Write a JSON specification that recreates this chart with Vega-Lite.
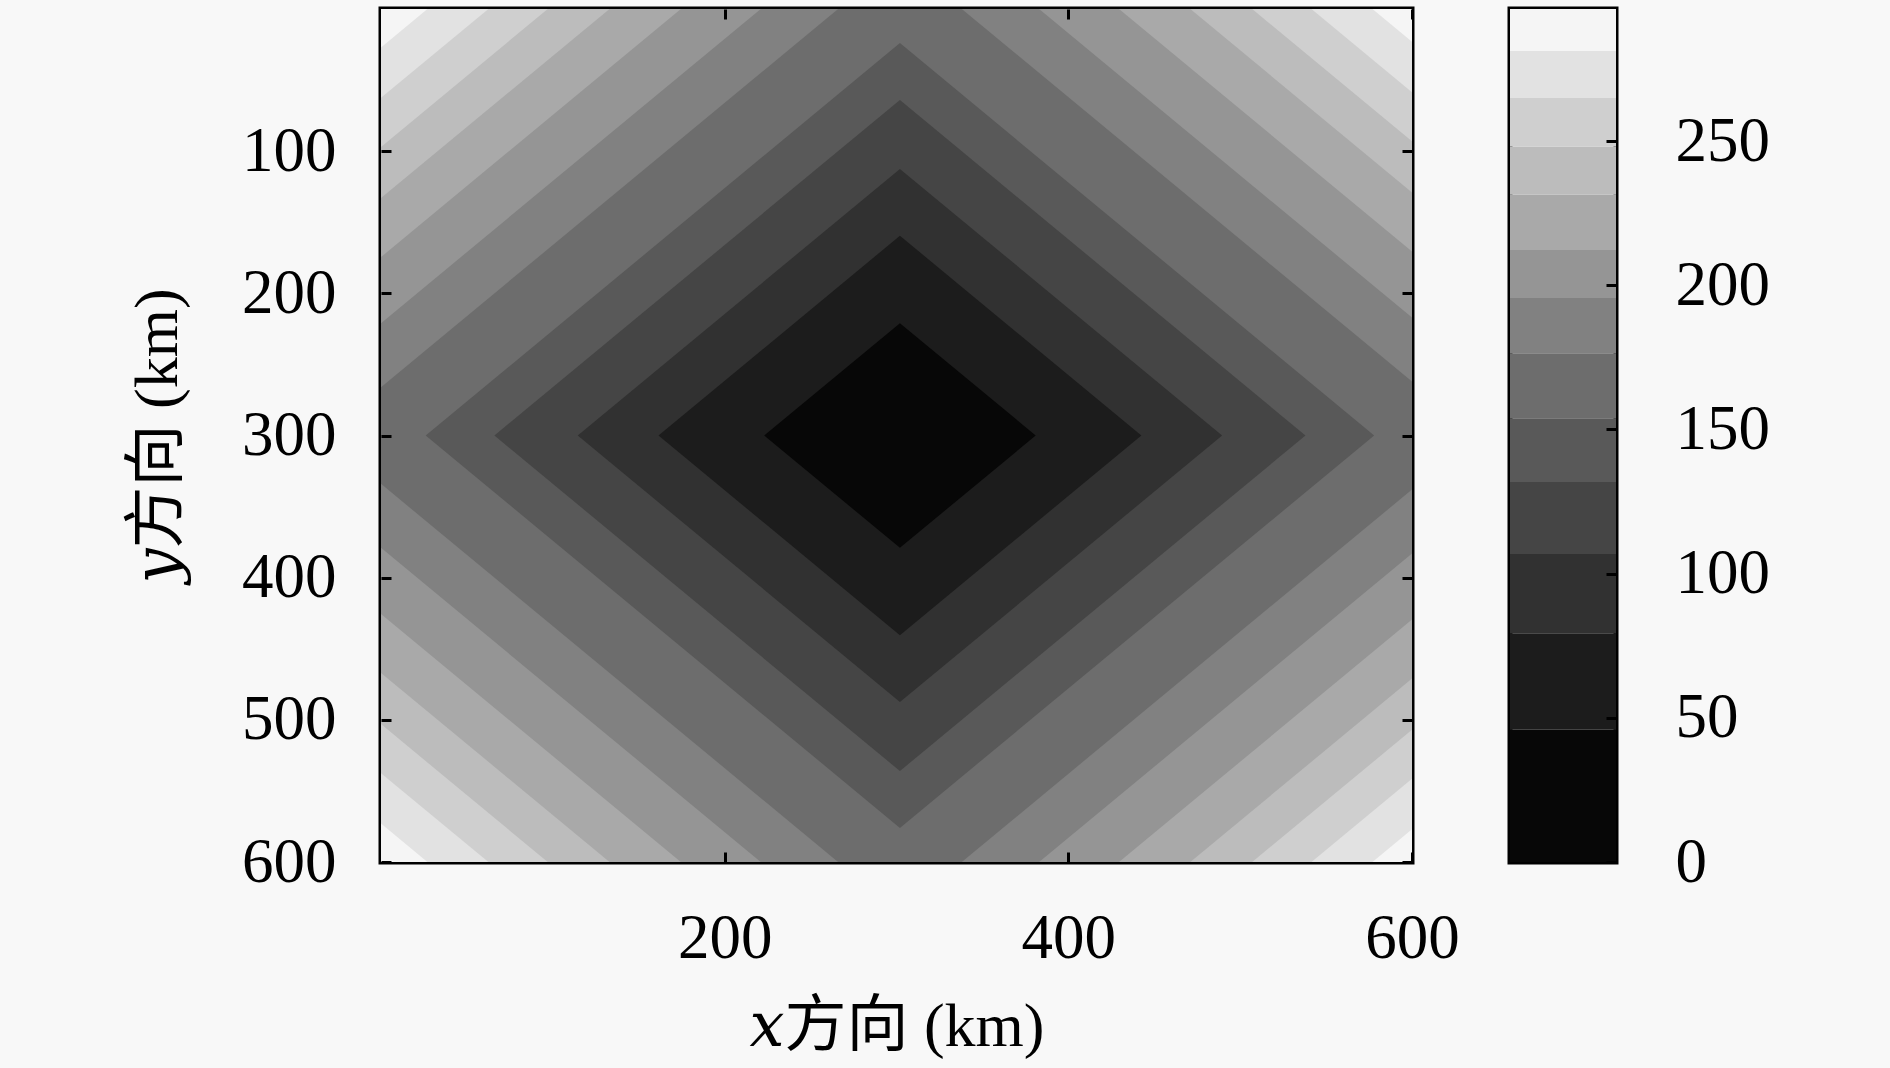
{
  "$schema": "https://vega.github.io/schema/vega-lite/v6.json",
  "background": "#f8f8f8",
  "padding": {"left": 124, "top": 5, "right": 123, "bottom": 12},
  "spacing": 45,
  "config": {
    "font": "Liberation Serif",
    "view": {"stroke": "black", "strokeWidth": 5},
    "axis": {
      "labelFont": "Liberation Serif",
      "labelFontSize": 63,
      "labelColor": "black",
      "labelFlush": false,
      "labelOverlap": false,
      "titleFont": "Liberation Serif, DejaVu Serif, Noto Sans CJK SC",
      "titleFontSize": 62,
      "titleFontWeight": "normal",
      "titleColor": "black",
      "domain": false,
      "grid": false,
      "ticks": true,
      "tickColor": "black",
      "tickWidth": 3,
      "tickSize": 10,
      "offset": -10
    }
  },
  "datasets": {
    "bands": [
      {"band": 13, "v": 288, "x": -398, "y": 300, "y2": 300},
      {"band": 13, "v": 288, "x": 302, "y": -400, "y2": 1000},
      {"band": 13, "v": 288, "x": 1002, "y": 300, "y2": 300},
      {"band": 12, "v": 273, "x": -273, "y": 300, "y2": 300},
      {"band": 12, "v": 273, "x": 302, "y": -275, "y2": 875},
      {"band": 12, "v": 273, "x": 877, "y": 300, "y2": 300},
      {"band": 11, "v": 256, "x": -237.5, "y": 300, "y2": 300},
      {"band": 11, "v": 256, "x": 302, "y": -239.5, "y2": 839.5},
      {"band": 11, "v": 256, "x": 841.5, "y": 300, "y2": 300},
      {"band": 10, "v": 240, "x": -203, "y": 300, "y2": 300},
      {"band": 10, "v": 240, "x": 302, "y": -205, "y2": 805},
      {"band": 10, "v": 240, "x": 807, "y": 300, "y2": 300},
      {"band": 9, "v": 222, "x": -167, "y": 300, "y2": 300},
      {"band": 9, "v": 222, "x": 302, "y": -169, "y2": 769},
      {"band": 9, "v": 222, "x": 771, "y": 300, "y2": 300},
      {"band": 8, "v": 204, "x": -125.5, "y": 300, "y2": 300},
      {"band": 8, "v": 204, "x": 302, "y": -127.5, "y2": 727.5},
      {"band": 8, "v": 204, "x": 729.5, "y": 300, "y2": 300},
      {"band": 7, "v": 186, "x": -79, "y": 300, "y2": 300},
      {"band": 7, "v": 186, "x": 302, "y": -81, "y2": 681},
      {"band": 7, "v": 186, "x": 683, "y": 300, "y2": 300},
      {"band": 6, "v": 165, "x": -34, "y": 300, "y2": 300},
      {"band": 6, "v": 165, "x": 302, "y": -36, "y2": 636},
      {"band": 6, "v": 165, "x": 638, "y": 300, "y2": 300},
      {"band": 5, "v": 143, "x": 26, "y": 300, "y2": 300},
      {"band": 5, "v": 143, "x": 302, "y": 24, "y2": 576},
      {"band": 5, "v": 143, "x": 578, "y": 300, "y2": 300},
      {"band": 4, "v": 119, "x": 66, "y": 300, "y2": 300},
      {"band": 4, "v": 119, "x": 302, "y": 64, "y2": 536},
      {"band": 4, "v": 119, "x": 538, "y": 300, "y2": 300},
      {"band": 3, "v": 93, "x": 114.5, "y": 300, "y2": 300},
      {"band": 3, "v": 93, "x": 302, "y": 112.5, "y2": 487.5},
      {"band": 3, "v": 93, "x": 489.5, "y": 300, "y2": 300},
      {"band": 2, "v": 62, "x": 161.5, "y": 300, "y2": 300},
      {"band": 2, "v": 62, "x": 302, "y": 159.5, "y2": 440.5},
      {"band": 2, "v": 62, "x": 442.5, "y": 300, "y2": 300},
      {"band": 1, "v": 23, "x": 223, "y": 300, "y2": 300},
      {"band": 1, "v": 23, "x": 302, "y": 221, "y2": 379},
      {"band": 1, "v": 23, "x": 381, "y": 300, "y2": 300}
    ],
    "levels": [
      {"lo": 0, "hi": 45.9, "v": 23},
      {"lo": 45.9, "hi": 79.3, "v": 62},
      {"lo": 79.3, "hi": 106.8, "v": 93},
      {"lo": 106.8, "hi": 131.8, "v": 119},
      {"lo": 131.8, "hi": 153.9, "v": 143},
      {"lo": 153.9, "hi": 176.4, "v": 165},
      {"lo": 176.4, "hi": 195.6, "v": 186},
      {"lo": 195.6, "hi": 212.2, "v": 204},
      {"lo": 212.2, "hi": 231.4, "v": 222},
      {"lo": 231.4, "hi": 248.1, "v": 240},
      {"lo": 248.1, "hi": 264.9, "v": 256},
      {"lo": 264.9, "hi": 281.2, "v": 273},
      {"lo": 281.2, "hi": 295.8, "v": 288}
    ]
  },
  "hconcat": [
    {
      "width": 1031,
      "height": 853,
      "data": {"name": "bands"},
      "layer": [
        {
          "mark": {"type": "area", "clip": true, "interpolate": "linear"},
          "encoding": {
            "x": {
              "field": "x",
              "type": "quantitative",
              "scale": {"domain": [0, 600], "nice": false, "zero": false},
              "axis": {"orient": "bottom", "values": [200, 400, 600], "title": "𝑥方向 (km)", "labelPadding": 45, "titlePadding": 26, "zindex": 1}
            },
            "y": {
              "field": "y",
              "type": "quantitative",
              "stack": null,
              "scale": {"domain": [0, 600], "reverse": true, "nice": false, "zero": false},
              "axis": {"orient": "left", "values": [100, 200, 300, 400, 500, 600], "title": "𝑦方向 (km)", "labelPadding": 45, "titlePadding": 52, "zindex": 1}
            },
            "y2": {"field": "y2"},
            "detail": {"field": "band", "type": "nominal"},
            "color": {
              "field": "v",
              "type": "quantitative",
              "scale": {
                "type": "threshold",
                "domain": [45.9, 79.3, 106.8, 131.8, 153.9, 176.4, 195.6, 212.2, 231.4, 248.1, 264.9, 281.2],
                "range": ["#070707", "#1c1c1c", "#313131", "#454545", "#595959", "#6d6d6d", "#818181", "#959595", "#a9a9a9", "#bcbcbc", "#cfcfcf", "#e2e2e2", "#f5f5f5"]
              },
              "legend": null
            }
          }
        },
        {
          "mark": {"type": "point", "opacity": 0, "clip": true},
          "encoding": {
            "x": {
              "field": "x",
              "type": "quantitative",
              "scale": {"domain": [0, 600], "nice": false, "zero": false},
              "axis": {"orient": "top", "values": [200, 400, 600], "labels": false, "title": null, "zindex": 1}
            },
            "y": {
              "field": "y",
              "type": "quantitative",
              "scale": {"domain": [0, 600], "reverse": true, "nice": false, "zero": false},
              "axis": {"orient": "right", "values": [100, 200, 300, 400, 500, 600], "labels": false, "title": null, "zindex": 1}
            }
          }
        }
      ],
      "resolve": {"axis": {"x": "independent", "y": "independent"}}
    },
    {
      "width": 106,
      "height": 853,
      "data": {"name": "levels"},
      "mark": "rect",
      "encoding": {
        "y": {
          "field": "lo",
          "type": "quantitative",
          "scale": {"domain": [0, 295.8], "nice": false, "zero": false},
          "axis": {"orient": "right", "values": [0, 50, 100, 150, 200, 250], "title": null, "labelPadding": 59, "zindex": 1}
        },
        "y2": {"field": "hi"},
        "color": {
          "field": "v",
          "type": "quantitative",
          "scale": {
            "type": "threshold",
            "domain": [45.9, 79.3, 106.8, 131.8, 153.9, 176.4, 195.6, 212.2, 231.4, 248.1, 264.9, 281.2],
            "range": ["#070707", "#1c1c1c", "#313131", "#454545", "#595959", "#6d6d6d", "#818181", "#959595", "#a9a9a9", "#bcbcbc", "#cfcfcf", "#e2e2e2", "#f5f5f5"]
          },
          "legend": null
        }
      }
    }
  ]
}
